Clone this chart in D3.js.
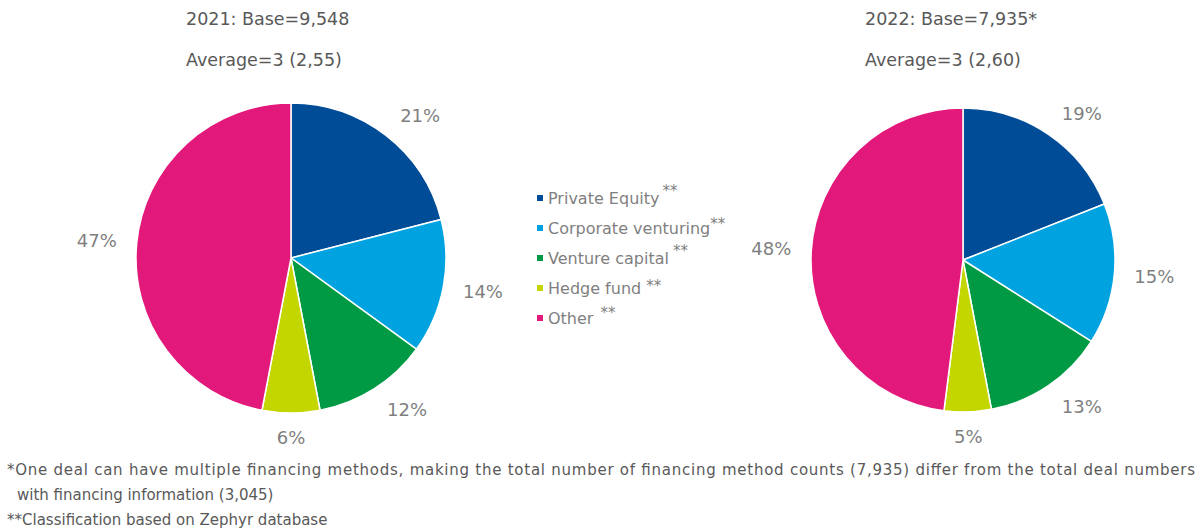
<!DOCTYPE html>
<html>
<head>
<meta charset="utf-8">
<script src="https://cdn.jsdelivr.net/npm/d3@7"></script>
<style>
  body { margin: 0; background: #fff; }
  text { font-family: "DejaVu Sans", Verdana, sans-serif; }
</style>
</head>
<body>
<div id="chart"></div>
<script>
// chart data
const categories = ["Private Equity", "Corporate venturing", "Venture capital", "Hedge fund", "Other"];
const values2021 = [21, 14, 12, 6, 47];
const values2022 = [19, 15, 13, 5, 48];
const titles2021 = ["2021: Base=9,548", "Average=3 (2,55)"];
const titles2022 = ["2022: Base=7,935*", "Average=3 (2,60)"];
const footnotes = [
  "*One deal can have multiple financing methods, making the total number of financing method counts (7,935) differ from the total deal numbers",
  "with financing information (3,045)",
  "**Classification based on Zephyr database"
];

const colors = ["#004c97", "#00a3e0", "#009a44", "#c4d600", "#e2197a"];

const width = 1204, height = 532;

const svg = d3.select("#chart")
  .append("svg")
  .attr("width", width)
  .attr("height", height);

const color = d3.scaleOrdinal().domain(categories).range(colors);

const pie = d3.pie()
  .sort(null)
  .value(d => d.value);

function drawPie(values, cx, cy, r, titles, tx) {
  const data = values.map((v, i) => ({ name: categories[i], value: v }));
  const arcs = pie(data);
  const arc = d3.arc().innerRadius(0).outerRadius(r);

  const g = svg.append("g")
    .attr("transform", `translate(${cx},${cy})`);

  g.selectAll("path")
    .data(arcs)
    .join("path")
    .attr("d", arc)
    .attr("fill", d => color(d.data.name))
    .attr("stroke", "#fff")
    .attr("stroke-width", 1.5);

  // labels outside the slices
  const gap = 15;
  g.selectAll("text.lbl")
    .data(arcs)
    .join("text")
    .attr("class", "lbl")
    .attr("x", d => {
      const a = (d.startAngle + d.endAngle) / 2;
      const s = Math.abs(Math.sin(a)) < 0.05 ? 0 : Math.sign(Math.sin(a));
      return Math.sin(a) * (r + gap) + s * 25;
    })
    .attr("y", d => {
      const a = (d.startAngle + d.endAngle) / 2;
      return -Math.cos(a) * (r + gap + 10);
    })
    .attr("dy", "0.35em")
    .attr("text-anchor", "middle")
    .attr("fill", "#7f7f7f")
    .attr("font-size", 18)
    .text(d => d.data.value + "%");

  svg.selectAll(null)
    .data(titles)
    .join("text")
    .attr("x", tx)
    .attr("y", (d, i) => 25 + i * 41)
    .attr("fill", "#595959")
    .attr("font-size", 17.5)
    .text(d => d);
}

drawPie(values2021, 291, 258, 155, titles2021, 186);
drawPie(values2022, 963, 260, 152, titles2022, 865);

// legend
const legend = svg.append("g")
  .attr("transform", "translate(537,198)");

const supShift = [-8, -4.5, -8, -3, -6];
const supGap = [3, 0, 4, 5, 7];

const item = legend.selectAll("g")
  .data(categories)
  .join("g")
  .attr("transform", (d, i) => `translate(0,${i * 30})`);

item.append("rect")
  .attr("x", 0)
  .attr("y", -3)
  .attr("width", 6)
  .attr("height", 6)
  .attr("fill", d => color(d));

const lt = item.append("text")
  .attr("x", 11)
  .attr("dy", "0.35em")
  .attr("fill", "#7f7f7f")
  .attr("font-size", 16);

lt.append("tspan").text(d => d);
lt.append("tspan")
  .attr("dx", (d, i) => supGap[i])
  .attr("dy", (d, i) => supShift[i])
  .attr("font-size", 15)
  .text("**");

// footnotes
const foot = svg.selectAll("text.foot")
  .data(footnotes)
  .join("text")
  .attr("class", "foot")
  .attr("x", (d, i) => i === 1 ? 17 : 7)
  .attr("y", (d, i) => 475 + i * 25)
  .attr("fill", "#595959")
  .attr("font-size", 15)
  .text(d => d);

// first line is stretched to the right edge
foot.filter((d, i) => i === 0)
  .attr("textLength", 1195 - 7)
  .attr("lengthAdjust", "spacing");
</script>
</body>
</html>
